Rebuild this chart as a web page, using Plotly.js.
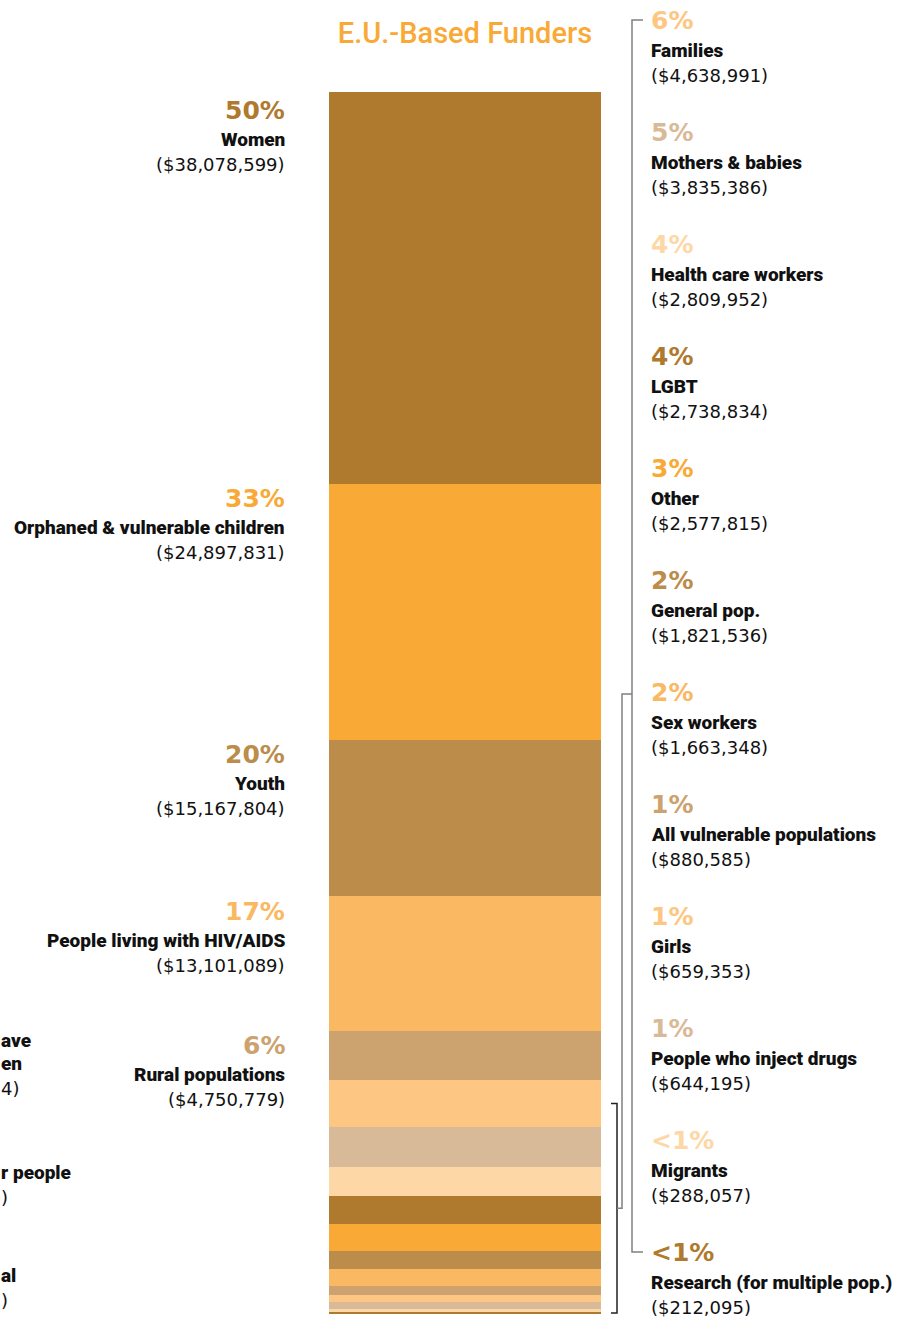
<!DOCTYPE html>
<html>
<head>
<meta charset="utf-8">
<script src="https://cdn.plot.ly/plotly-3.0.1.min.js"></script>
<style>html,body{margin:0;padding:0;background:#fff;}#chart{width:909px;height:1319px;}</style>
</head>
<body>
<div id="chart"></div>
<script>
// ---- data ----
const categories = ["Women","Orphaned & vulnerable children","Youth","People living with HIV/AIDS","Rural populations",
  "Families","Mothers & babies","Health care workers","LGBT","Other","General pop.","Sex workers",
  "All vulnerable populations","Girls","People who inject drugs","Migrants","Research (for multiple pop.)"];
const amounts = [38078599,24897831,15167804,13101089,4750779,4638991,3835386,2809952,2738834,2577815,
  1821536,1663348,880585,659353,644195,288057,212095];
const percents = ["50%","33%","20%","17%","6%","6%","5%","4%","4%","3%","2%","2%","1%","1%","1%","<1%","<1%"];
const amountLabels = ["($38,078,599)","($24,897,831)","($15,167,804)","($13,101,089)","($4,750,779)",
  "($4,638,991)","($3,835,386)","($2,809,952)","($2,738,834)","($2,577,815)","($1,821,536)","($1,663,348)",
  "($880,585)","($659,353)","($644,195)","($288,057)","($212,095)"];
const palette = ["#B07A2E","#F9A935","#BC8C4A","#FAB862","#CCA26E","#FDC683","#D9BA98","#FED7A7"];
const leftFragments = [["ave",true,1040],["en",true,1063],["4)",false,1088],
  ["r people",true,1172],[")",false,1197],["al",true,1275],[")",false,1300]];
const chartTitle = "E.U.-Based Funders";

// ---- geometry helpers ----
const W=909,H=1319, mL=329, mR=308, mT=92, mB=5;
const pw=W-mL-mR, ph=H-mT-mB;
const px=(x)=>(x-mL)/pw;
const py=(y)=>1-(y-mT)/ph;
const total = amounts.reduce((a,b)=>a+b,0);
const v2p=(v)=>1-v/total;
const starts=[]; {let c=0; amounts.forEach(a=>{starts.push(c); c+=a;});}

const traces = categories.map((c,i)=>({
  type:'bar', x:['EU'], y:[amounts[i]], name:c,
  marker:{color:palette[i%palette.length], line:{width:0}},
  hovertemplate: c+'<br>'+amountLabels[i]+'<extra></extra>'
}));

const ann=[];
const pctFont=(col)=>({family:'DejaVu Sans', size:25, color:col, weight:'bold'});
const nameFont={family:'Roboto', size:19, color:'#111', weight:900};
const amtFont={family:'DejaVu Sans', size:18, color:'#111'};

// left labels (first five)
for(let i=0;i<5;i++){
  const base={xref:'paper', yref:'y', x:0, xshift:-42, xanchor:'right', yanchor:'middle', y:starts[i], showarrow:false};
  const o = i===0 ? 3 : 0;
  ann.push(Object.assign({},base,{text:percents[i], font:pctFont(palette[i%palette.length]), yshift:-15-o}));
  ann.push(Object.assign({},base,{text:categories[i], font:nameFont, yshift:-44-o}));
  ann.push(Object.assign({},base,{text:amountLabels[i], font:amtFont, yshift:-69-o}));
}
// right labels
for(let i=5;i<categories.length;i++){
  const k=i-5, P=20+112*k;
  const base={xref:'paper', yref:'paper', x:px(649), xanchor:'left', yanchor:'middle', showarrow:false};
  ann.push(Object.assign({},base,{text:percents[i], font:pctFont(palette[i%palette.length]), y:py(P)}));
  ann.push(Object.assign({},base,{text:categories[i], font:nameFont, y:py(P+30)}));
  ann.push(Object.assign({},base,{text:amountLabels[i], font:amtFont, y:py(P+55)}));
}
// fragments from the neighbouring panel at the left edge
leftFragments.forEach(f=>{
  ann.push({xref:'paper', yref:'paper', x:px(-1), y:py(f[2]), xanchor:'left', yanchor:'middle', showarrow:false,
    text:f[0], font:f[1]?nameFont:amtFont});
});

// brackets
const famMid = starts[5]+amounts[5]/2;
const resMid = starts[16]+amounts[16]/2;
const yA=v2p(famMid), yB=v2p(resMid), yM=(yA+yB)/2;
const dark={color:'#222', width:1.5}, gray={color:'#808080', width:1.5};
const shapes=[
  {type:'path', xref:'paper', yref:'paper', line:dark,
   path:`M ${px(611)} ${yA} L ${px(617)} ${yA} L ${px(617)} ${yB} L ${px(611)} ${yB}`},
  {type:'path', xref:'paper', yref:'paper', line:gray,
   path:`M ${px(617)} ${yM} L ${px(622)} ${yM} L ${px(622)} ${py(694)} L ${px(632)} ${py(694)}`},
  {type:'path', xref:'paper', yref:'paper', line:gray,
   path:`M ${px(643)} ${py(20)} L ${px(632)} ${py(20)} L ${px(632)} ${py(20+112*11)} L ${px(643)} ${py(20+112*11)}`}
];

const layout={
  width:W, height:H, margin:{l:mL,r:mR,t:mT,b:mB},
  paper_bgcolor:'#fff', plot_bgcolor:'#fff',
  barmode:'stack', bargap:0, showlegend:false,
  title:{text:chartTitle, x:px(465), xref:'paper', xanchor:'center', y:1-33/H, yref:'container', yanchor:'middle',
    font:{family:'Roboto', size:29, color:'#F9A935', weight:500}},
  xaxis:{visible:false, range:[-0.5,0.5], fixedrange:true},
  yaxis:{visible:false, range:[total,0], fixedrange:true},
  annotations:ann, shapes:shapes
};
Plotly.newPlot('chart', traces, layout, {displayModeBar:false, staticPlot:true});
</script>
</body>
</html>
